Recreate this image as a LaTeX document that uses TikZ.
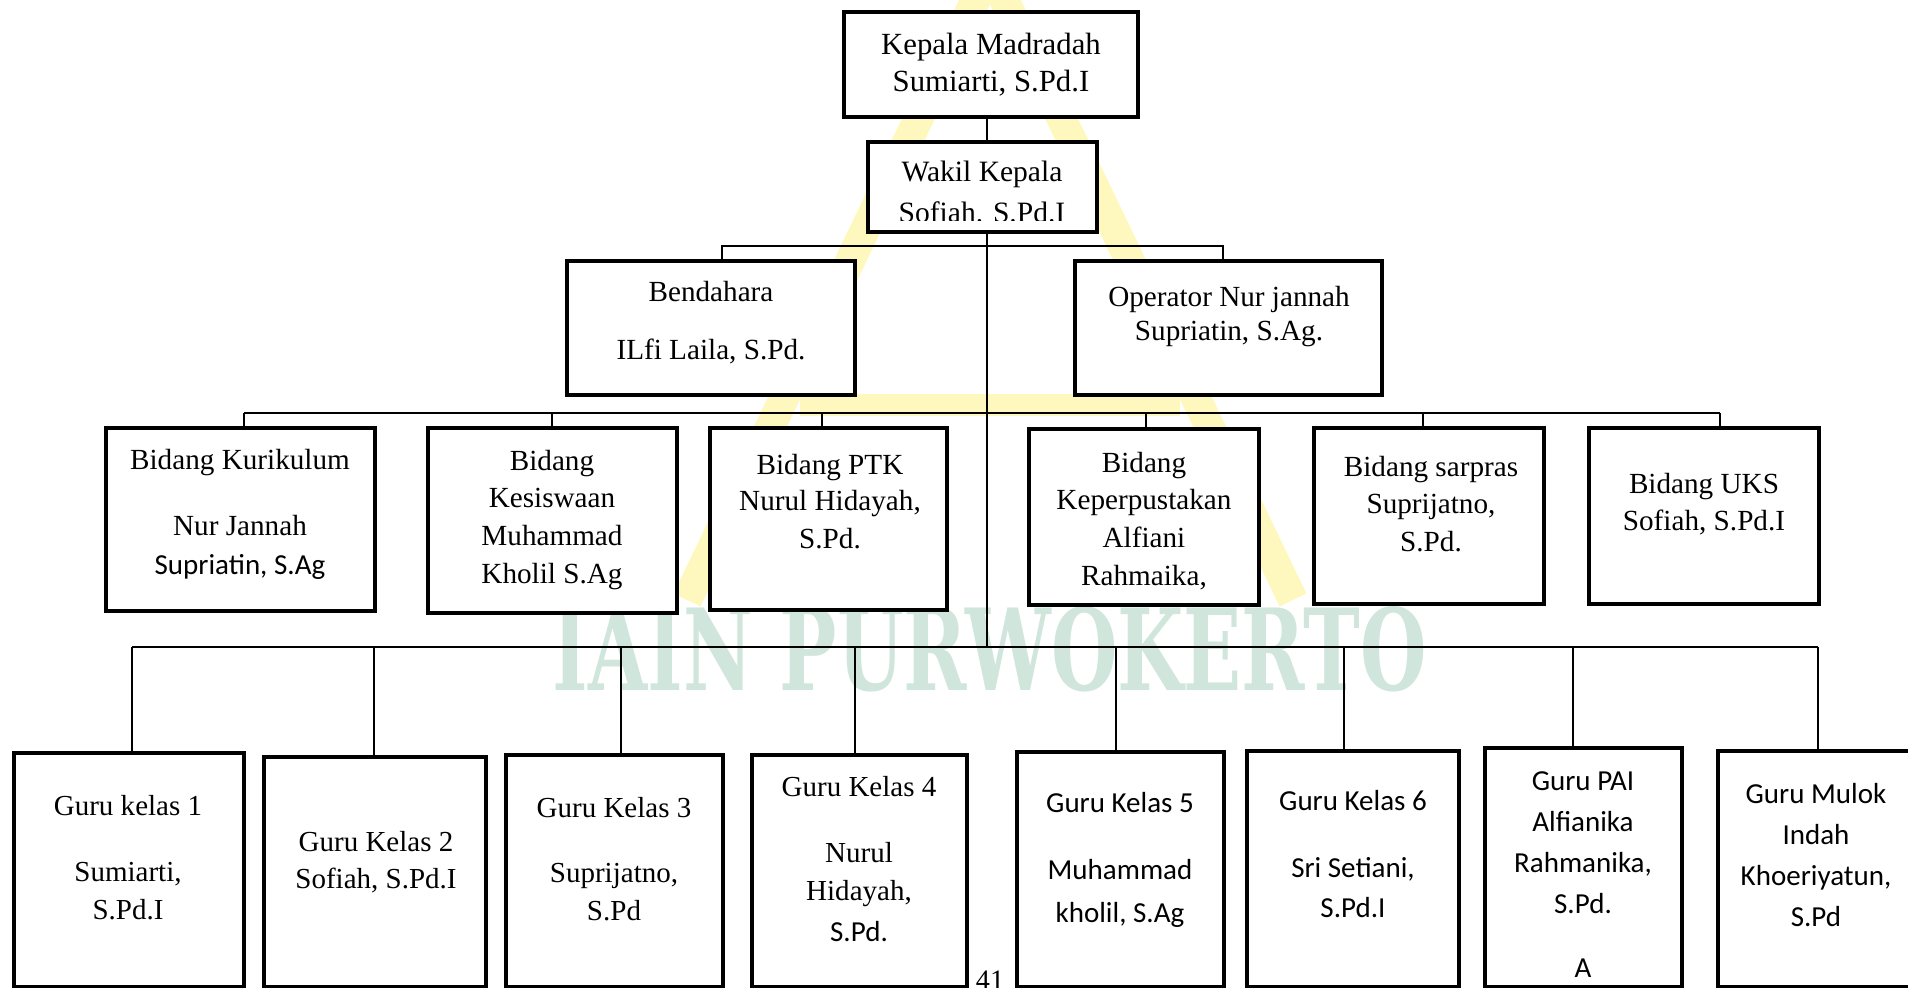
\documentclass[tikz,border=0pt]{standalone}
\usepackage{fontspec}
\setmainfont{Liberation Serif}
\setsansfont{Carlito}
\newfontfamily\wmfont{DejaVu Serif}
\usepackage{graphicx}
\usetikzlibrary{calc}
\definecolor{wmyellow}{RGB}{255,248,190}
\definecolor{wmgreen}{RGB}{208,229,220}
\newcommand{\stk}[1]{\begin{tabular}[t]{@{}c@{}}#1\end{tabular}}
\tikzstyle{box}=[draw, fill=white, line width=1.3pt, inner sep=0pt]
\tikzstyle{link}=[line width=0.6pt]
\tikzstyle{serif}=[anchor=base, inner sep=0pt, font=\fontsize{8.3}{10.8}\selectfont]
\tikzstyle{sans}=[anchor=base, inner sep=0pt, font=\sffamily\fontsize{8.25}{11.7}\selectfont]

\begin{document}
\begin{tikzpicture}[x=0.01cm, y=-0.01cm]
	\useasboundingbox (0,0) rectangle (1908,988);
	\clip (0,0) rectangle (1908,988);

	% Watermark (logo and name)
	\draw[wmyellow, line width=8.5pt, line join=miter] (687,600) -- (990,-30) -- (1293,600);
	\draw[wmyellow, line width=6pt] (800,405) -- (1180,405);
	\node[inner sep=0pt, anchor=base west, text=wmgreen] (wm) at (552,690)
		{\resizebox{8.74cm}{0.84cm}{\wmfont\bfseries IAIN PURWOKERTO}};

	% Taps on the connector bars
	\coordinate (spine) at (987,0);
	\coordinate (tapL) at (722,246);
	\coordinate (tapR) at (1223,246);
	\coordinate (m1) at (244,413);  \coordinate (m2) at (552,413);
	\coordinate (m3) at (822,413);  \coordinate (m4) at (1146,413);
	\coordinate (m5) at (1423,413); \coordinate (m6) at (1720,413);
	\coordinate (b1) at (132,647);  \coordinate (b2) at (374,647);
	\coordinate (b3) at (621,647);  \coordinate (b4) at (855,647);
	\coordinate (b5) at (1116,647); \coordinate (b6) at (1344,647);
	\coordinate (b7) at (1573,647); \coordinate (b8) at (1818,647);

	% Boxes: top
	\node[box, minimum width=2.94cm, minimum height=1.05cm] (kepala) at (991,64.5) {};
	\node[box, minimum width=2.29cm, minimum height=0.90cm] (wakil) at (982.5,187) {};
	\node[box, minimum width=2.88cm, minimum height=1.34cm] (bendahara) at (711,328) {};
	\node[box, minimum width=3.07cm, minimum height=1.34cm] (operator) at (1228.5,328) {};
	% Boxes: bidang
	\node[box, minimum width=2.69cm, minimum height=1.83cm] (kurikulum) at (240.5,519.5) {};
	\node[box, minimum width=2.49cm, minimum height=1.85cm] (kesiswaan) at (552.5,520.5) {};
	\node[box, minimum width=2.37cm, minimum height=1.82cm] (ptk) at (828.5,519) {};
	\node[box, minimum width=2.30cm, minimum height=1.76cm] (perpus) at (1144,517) {};
	\node[box, minimum width=2.30cm, minimum height=1.76cm] (sarpras) at (1429,516) {};
	\node[box, minimum width=2.30cm, minimum height=1.76cm] (uks) at (1704,516) {};
	% Boxes: guru
	\node[box, minimum width=2.30cm, minimum height=2.34cm] (guru1) at (129,870) {};
	\node[box, minimum width=2.22cm, minimum height=2.30cm] (guru2) at (375,872) {};
	\node[box, minimum width=2.17cm, minimum height=2.32cm] (guru3) at (614.5,871) {};
	\node[box, minimum width=2.15cm, minimum height=2.32cm] (guru4) at (859.5,871) {};
	\node[box, minimum width=2.07cm, minimum height=2.35cm] (guru5) at (1120.5,869.5) {};
	\node[box, minimum width=2.12cm, minimum height=2.36cm] (guru6) at (1353,869) {};
	\node[box, minimum width=1.97cm, minimum height=2.39cm] (guru7) at (1583.5,867.5) {};
	\node[box, minimum width=1.96cm, minimum height=2.36cm] (guru8) at (1816,869) {};

	% Connectors
	\draw[link] (kepala.south -| spine) -- (wakil.north -| spine);
	\draw[link] (wakil.south -| spine) -- (spine |- b1);
	\draw[link] (tapL |- bendahara.north) -- (tapL) -- (tapR) -- (tapR |- operator.north);
	\draw[link] (m1) -- (m6);
	\draw[link] (b1) -- (b8);
	\foreach \t/\b in {m1/kurikulum, m2/kesiswaan, m3/ptk, m4/perpus, m5/sarpras, m6/uks,
		b1/guru1, b2/guru2, b3/guru3, b4/guru4, b5/guru5, b6/guru6, b7/guru7, b8/guru8}
		\draw[link] (\t) -- (\t |- \b.north);

	% Texts
	\node[serif, font=\fontsize{8.75}{10.5}\selectfont] (kepala-t) at (991,55)
		{\stk{Kepala Madradah\\ Sumiarti, S.Pd.I}};
	\begin{scope}
		\clip (wakil.north west) rectangle ($(wakil.south east)+(0,-14)$);
		\node[serif, font=\fontsize{8.4}{10.8}\selectfont] (wakil-t) at (982,182)
			{\stk{Wakil Kepala\\[0.6pt] Sofiah. S.Pd.I}};
	\end{scope}
	\node[serif] (bendahara-t) at (711,301)
		{\stk{Bendahara\\[5.7pt] ILfi Laila, S.Pd.}};
	\node[serif, font=\fontsize{8.3}{9.4}\selectfont] (operator-t) at (1229,307)
		{\stk{Operator Nur jannah\\ Supriatin, S.Ag.}};

	\node[serif] (kurikulum-t) at (240,469)
		{\stk{Bidang Kurikulum\\[8pt] Nur Jannah\\[0.4pt] \sffamily\fontsize{8.25}{10.8}\selectfont Supriatin, S.Ag}};
	\node[serif] (kesiswaan-t) at (552,470)
		{\stk{Bidang\\ Kesiswaan\\ Muhammad\\ Kholil S.Ag}};
	\node[serif] (ptk-t) at (830,475)
		{\stk{Bidang PTK\\[-0.6pt] Nurul Hidayah,\\ S.Pd.}};
	\node[serif] (perpus-t) at (1144,472)
		{\stk{Bidang\\ Keperpustakan\\ Alfiani\\ Rahmaika,}};
	\node[serif] (sarpras-t) at (1431,476)
		{\stk{Bidang sarpras\\ Suprijatno,\\ S.Pd.}};
	\node[serif] (uks-t) at (1704,493)
		{\stk{Bidang UKS\\ Sofiah, S.Pd.I}};

	\node[serif, font=\fontsize{8.25}{10.8}\selectfont] (guru1-t) at (128,815)
		{\stk{Guru kelas 1\\[8pt] Sumiarti,\\ S.Pd.I}};
	\node[serif, font=\fontsize{8.25}{10.8}\selectfont] (guru2-t) at (376,851)
		{\stk{Guru Kelas 2\\ Sofiah, S.Pd.I}};
	\node[serif, font=\fontsize{8.25}{10.8}\selectfont] (guru3-t) at (614,817)
		{\stk{Guru Kelas 3\\[7.7pt] Suprijatno,\\ S.Pd}};
	\node[serif, font=\fontsize{8.25}{10.8}\selectfont] (guru4-t) at (859,796)
		{\stk{Guru Kelas 4\\[8pt] Nurul\\ Hidayah,\\[1.1pt] \sffamily S.Pd.}};
	\node[sans, font=\sffamily\fontsize{8.25}{10.8}\selectfont] (guru5-t) at (1120,812)
		{\stk{Guru Kelas 5\\[8.5pt] Muhammad\\[1.2pt] kholil, S.Ag}};
	\node[sans, font=\sffamily\fontsize{8.25}{10.8}\selectfont] (guru6-t) at (1353,810)
		{\stk{Guru Kelas 6\\[8.5pt] Sri Setiani,\\[0.6pt] S.Pd.I}};
	\node[sans] (guru7-t) at (1583,790)
		{\stk{Guru PAI\\ Alfianika\\ Rahmanika,\\ S.Pd.\\[6.5pt] A}};
	\node[sans] (guru8-t) at (1816,803)
		{\stk{Guru Mulok\\ Indah\\ Khoeriyatun,\\ S.Pd}};

	% Page number
	\node[serif, font=\fontsize{8}{10}\selectfont] (pagenum) at (990,989) {41};
\end{tikzpicture}
\end{document}
